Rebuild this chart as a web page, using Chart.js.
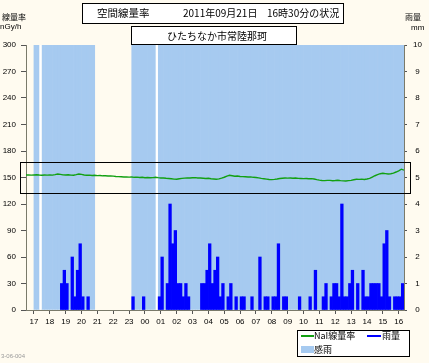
<!DOCTYPE html>
<html><head><meta charset="utf-8">
<script src="https://cdn.jsdelivr.net/npm/chart.js@4/dist/chart.umd.min.js"></script>
<style>
html,body{margin:0;padding:0;background:#fffbf0;}
#wrap{position:relative;width:429px;height:363px;overflow:hidden;font-family:"Noto Sans CJK JP","Noto Sans",sans-serif;color:#000;}
#c{position:absolute;left:0;top:0;}
.t{position:absolute;white-space:nowrap;line-height:1;}
.box{position:absolute;box-sizing:border-box;border:1px solid #000;background:#fff;}
</style></head><body>
<div id="wrap">
<canvas id="c" width="429" height="363"></canvas>

<div class="box" style="left:82px;top:3px;width:262px;height:21px;">
  <span class="t" style="left:14px;top:4px;font-size:10.5px;">空間線量率</span>
  <span class="t" style="left:100px;top:4px;font-size:10px;">2011年09月21日</span>
  <span class="t" style="left:184px;top:4px;font-size:10px;">16時30分の状況</span>
</div>
<div class="box" style="left:131px;top:26px;width:166px;height:19px;">
  <span class="t" style="left:35px;top:4px;font-size:10px;">ひたちなか市常陸那珂</span>
</div>

<span class="t" style="left:2px;top:13px;font-size:8px;">線量率</span>
<span class="t" style="left:0px;top:23px;font-size:8px;font-family:'Liberation Sans',sans-serif;">nGy/h</span>
<span class="t" style="left:405px;top:13px;font-size:8px;">雨量</span>
<span class="t" style="left:411px;top:24px;font-size:8px;font-family:'Liberation Sans',sans-serif;">mm</span>

<div class="box" style="left:297px;top:330px;width:113px;height:27px;">
  <div style="position:absolute;left:3px;top:4px;width:13px;height:2px;background:#12a012;"></div>
  <span class="t" style="left:16px;top:0px;font-size:9px;">NaI線量率</span>
  <div style="position:absolute;left:69px;top:4px;width:14px;height:2px;background:#0000ff;"></div>
  <span class="t" style="left:84px;top:0px;font-size:9px;">雨量</span>
  <div style="position:absolute;left:3px;top:15px;width:13px;height:7px;background:#a6caf0;"></div>
  <span class="t" style="left:16px;top:14px;font-size:9px;">感雨</span>
</div>

<span class="t" style="left:1px;top:353px;font-size:6px;color:#999;font-family:'Liberation Sans',sans-serif;">3-06-004</span>
</div>

<script>
// ---- data (10-minute slots starting 16:30, 2011-09-20) ----
const hourLabels = ['17','18','19','20','21','22','23','00','01','02','03','04','05','06','07','08','09','10','11','12','13','14','15','16'];

// rainfall per 10-minute slot (mm), right axis
const rainMm = [
  0,0,0,0,0,0,0,0,0,0,
  0,0,0,1,1.5,1,0,2,0.5,1.5,
  2.5,0.5,0,0.5,0,0,0,0,0,0,
  0,0,0,0,0,0,0,0,0,0,
  0.5,0,0,0,0.5,0,0,0,0,0,
  0.5,2,0,1,4,2.5,3,1,1,0.5,
  1,0.5,0,0,0,0,1,1,1.5,2.5,
  1,1.5,2,0.5,1,0,0.5,1,0,0.5,
  0,0.5,0.5,0,0,0.5,0,0,2,0,
  0.5,0.5,0,0.5,0.5,2.5,0,0.5,0.5,0,
  0,0,0,0.5,0,0,0,0.5,0,1.5,
  0,0,0.5,1,0,0.5,1,1,0.5,4,
  0.5,0.5,1,1.5,0,1,0,1.5,0.5,0.5,
  1,1,1,1,0.5,2.5,3,0.5,0,0.5,
  0.5,0.5,1
];

// rain sensor (感雨) on/off per slot
const rainSensed = [
  0,0,0,1,1,0,1,1,1,1,
  1,1,1,1,1,1,1,1,1,1,
  1,1,1,1,1,1,0,0,0,0,
  0,0,0,0,0,0,0,0,0,0,
  1,1,1,1,1,1,1,1,1,0,
  1,1,1,1,1,1,1,1,1,1,
  1,1,1,1,1,1,1,1,1,1,
  1,1,1,1,1,1,1,1,1,1,
  1,1,1,1,1,1,1,1,1,1,
  1,1,1,1,1,1,1,1,1,1,
  1,1,1,1,1,1,1,1,1,1,
  1,1,1,1,1,1,1,1,1,1,
  1,1,1,1,1,1,1,1,1,1,
  1,1,1,1,1,1,1,1,1,1,
  1,1,1
];

// slots without sensor record (white strips)
const noRecord = [
  0,0,0,0,0,1,0,0,0,0,
  0,0,0,0,0,0,0,0,0,0,
  0,0,0,0,0,0,0,0,0,0,
  0,0,0,0,0,0,0,0,0,0,
  0,0,0,0,0,0,0,0,0,1,
  0,0,0,0,0,0,0,0,0,0,
  0,0,0,0,0,0,0,0,0,0,
  0,0,0,0,0,0,0,0,0,0,
  0,0,0,0,0,0,0,0,0,0,
  0,0,0,0,0,0,0,0,0,0,
  0,0,0,0,0,0,0,0,0,0,
  0,0,0,0,0,0,0,0,0,0,
  0,0,0,0,0,0,0,0,0,0,
  0,0,0,0,0,0,0,0,0,0,
  0,0,0
];

// NaI dose rate (nGy/h), left axis, at slot boundaries
const naiRate = [
  152.8,153.0,152.7,152.9,153.1,152.8,152.6,152.9,152.7,153.0,
  152.7,153.3,154.0,153.5,153.0,152.8,153.1,152.7,152.6,153.2,
  154.0,153.6,152.9,152.6,152.7,152.3,152.5,152.1,152.2,151.9,
  152.0,151.7,151.8,151.5,151.2,151.0,150.8,150.5,150.6,150.4,
  150.5,150.2,150.4,150.0,150.2,149.8,150.0,149.7,149.9,150.2,
  149.8,149.5,149.4,149.1,148.9,148.6,148.2,148.0,148.6,149.0,
  149.3,149.6,149.4,149.7,149.9,149.5,149.4,149.2,148.9,149.1,
  148.6,148.3,148.0,148.4,149.2,150.3,151.6,152.5,152.0,151.5,
  151.7,151.2,151.0,150.8,150.5,150.7,150.2,150.0,149.6,149.0,
  148.6,148.2,147.8,147.6,147.9,148.3,148.8,149.2,149.4,149.3,
  149.4,149.2,149.4,149.0,148.9,148.7,148.9,148.6,148.7,148.3,
  147.6,147.0,146.6,146.5,146.8,146.7,146.4,146.6,146.9,146.5,
  146.2,146.0,146.4,146.8,147.5,148.0,147.9,148.2,147.8,148.3,
  149.0,150.5,152.0,153.2,154.3,154.8,154.4,154.0,154.3,155.0,
  156.2,157.6,159.4,158.3
];

// highlighted band around the dose-rate line (nGy/h)
const bandHigh = 167.5;
const bandLow = 132.5;

// ---- chart ----
const SLOTS = rainMm.length;
const barPts = (arr, full) => arr.map((v, k) => ({x: k + 0.5, y: v > 0 ? (full ? 10 : v) : null}));

const highlightBox = {
  id: 'hbox',
  afterDatasetsDraw(chart) {
    const {ctx, chartArea, scales} = chart;
    const y = scales.y;
    const top = Math.round(y.getPixelForValue(bandHigh)) + 0.5;
    const bot = Math.round(y.getPixelForValue(bandLow)) + 0.5;
    ctx.save();
    ctx.strokeStyle = '#000';
    ctx.lineWidth = 1;
    ctx.strokeRect(Math.round(chartArea.left) - 6 + 0.5, top, chartArea.right - chartArea.left + 12, bot - top);
    ctx.restore();
  }
};

const tickFont = {size: 8, family: 'Liberation Sans'};

new Chart(document.getElementById('c'), {
  type: 'bar',
  data: {
    datasets: [
      {type: 'line', label: 'NaI線量率', data: naiRate.map((v, k) => ({x: k, y: v})), yAxisID: 'y',
       borderColor: '#12a012', borderWidth: 1.4, pointRadius: 0, tension: 0, order: 0},
      {label: '雨量', data: barPts(rainMm, false), yAxisID: 'y1', backgroundColor: '#0000ff',
       borderWidth: 0, grouped: false, barPercentage: 1, categoryPercentage: 1, order: 1},
      {label: '欠測', data: barPts(noRecord, true), yAxisID: 'y1', backgroundColor: '#ffffff',
       borderWidth: 0, grouped: false, barPercentage: 0.8, categoryPercentage: 1, order: 2},
      {label: '感雨', data: barPts(rainSensed, true), yAxisID: 'y1', backgroundColor: '#a6caf0',
       borderWidth: 0, grouped: false, barPercentage: 1, categoryPercentage: 1, order: 3}
    ]
  },
  options: {
    responsive: false,
    animation: false,
    devicePixelRatio: 1,
    layout: {padding: {top: 45, left: 0, right: 0, bottom: 0}},
    plugins: {legend: {display: false}, title: {display: false}, tooltip: {enabled: false}},
    scales: {
      x: {
        type: 'linear', min: 0, max: SLOTS, offset: false,
        afterBuildTicks: s => { s.ticks = hourLabels.map((_, i) => ({value: 3 + 6 * i})); },
        afterFit: s => { s.height = 53; },
        grid: {display: true, drawOnChartArea: false, drawTicks: true, tickLength: 4, color: '#555', offset: false},
        border: {display: true, color: '#7a7a6a', width: 1},
        ticks: {autoSkip: false, maxRotation: 0, minRotation: 0, padding: 3, font: tickFont, color: '#000',
                callback: (v, i) => hourLabels[i]}
      },
      y: {
        position: 'left', min: 0, max: 300,
        afterFit: s => { s.width = 26; },
        grid: {display: true, drawOnChartArea: false, drawTicks: true, tickLength: 5, color: '#555'},
        border: {display: true, color: '#7a7a6a', width: 1},
        ticks: {stepSize: 30, padding: 5, font: tickFont, color: '#000'}
      },
      y1: {
        position: 'right', min: 0, max: 10,
        afterFit: s => { s.width = 25; },
        grid: {display: true, drawOnChartArea: false, drawTicks: true, tickLength: 3, color: '#555'},
        border: {display: true, color: '#7a7a6a', width: 1},
        ticks: {stepSize: 1, padding: 6, crossAlign: 'center', font: tickFont, color: '#000'}
      }
    }
  },
  plugins: [highlightBox]
});
</script>
</body></html>
